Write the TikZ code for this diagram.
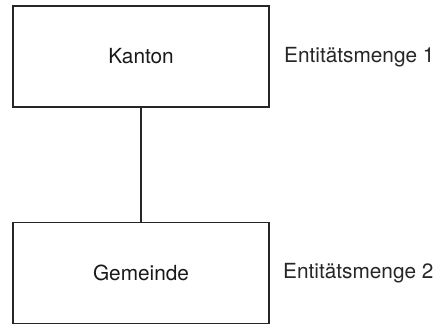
\documentclass[tikz,border=0pt]{standalone}
\usepackage{fontspec}
\setmainfont{TeX Gyre Heros}
\begin{document}
\begin{tikzpicture}[x=1pt,y=1pt,
  entity/.style={draw=black!85, line width=1.8pt, minimum width=256pt, minimum height=101pt, inner sep=0pt, font=\fontsize{20.8}{24}\selectfont, text=black!90},
  setlabel/.style={anchor=base west, inner sep=0pt, font=\fontsize{20.8}{24}\selectfont, text=black!85},
  link/.style={draw=black!85, line width=1.7pt}]
\useasboundingbox (0,0) rectangle (438,325);
\node[entity] (kanton) at (141,268.5) {Kanton};
\node[entity] (gemeinde) at (141,52) {Gemeinde};
\node[setlabel] (l1) at (284,263) {Entitätsmenge 1};
\node[setlabel] (l2) at (283,47) {Entitätsmenge 2};
\draw[link] (kanton.south) -- (gemeinde.north);
\end{tikzpicture}
\end{document}
